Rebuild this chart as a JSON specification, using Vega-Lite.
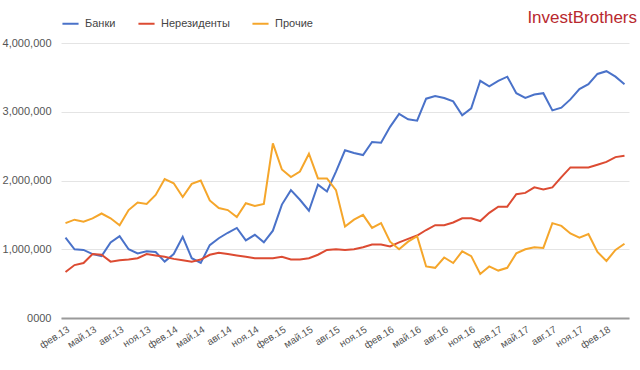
{
  "$schema": "https://vega.github.io/schema/vega-lite/v6.json",
  "width": 568,
  "height": 275,
  "autosize": "none",
  "padding": {"left": 61, "top": 43, "right": 11, "bottom": 52},
  "background": "white",
  "title": {"text": "InvestBrothers", "anchor": "end", "color": "#b8282e", "font": "Liberation Sans", "fontSize": 17, "fontWeight": "normal", "offset": 12, "dx": 8, "dy": 25},
  "config": {
    "view": {"stroke": null},
    "font": "Liberation Sans",
    "axis": {"labelFont": "Liberation Sans", "labelColor": "#555", "titleFont": "Liberation Sans"},
    "legend": {"labelFont": "Liberation Sans"}
  },
  "data": {"values": [
    {"m":"фев.13","Банки":1170000,"Нерезиденты":670000,"Прочие":1380000},
    {"m":"мар.13","Банки":1000000,"Нерезиденты":770000,"Прочие":1430000},
    {"m":"апр.13","Банки":990000,"Нерезиденты":800000,"Прочие":1400000},
    {"m":"май.13","Банки":930000,"Нерезиденты":930000,"Прочие":1450000},
    {"m":"июн.13","Банки":900000,"Нерезиденты":920000,"Прочие":1520000},
    {"m":"июл.13","Банки":1100000,"Нерезиденты":820000,"Прочие":1450000},
    {"m":"авг.13","Банки":1190000,"Нерезиденты":840000,"Прочие":1350000},
    {"m":"сен.13","Банки":1000000,"Нерезиденты":850000,"Прочие":1570000},
    {"m":"окт.13","Банки":940000,"Нерезиденты":870000,"Прочие":1680000},
    {"m":"ноя.13","Банки":970000,"Нерезиденты":930000,"Прочие":1660000},
    {"m":"дек.13","Банки":960000,"Нерезиденты":910000,"Прочие":1790000},
    {"m":"янв.14","Банки":820000,"Нерезиденты":890000,"Прочие":2020000},
    {"m":"фев.14","Банки":930000,"Нерезиденты":860000,"Прочие":1960000},
    {"m":"мар.14","Банки":1180000,"Нерезиденты":840000,"Прочие":1760000},
    {"m":"апр.14","Банки":870000,"Нерезиденты":820000,"Прочие":1950000},
    {"m":"май.14","Банки":800000,"Нерезиденты":850000,"Прочие":2000000},
    {"m":"июн.14","Банки":1060000,"Нерезиденты":920000,"Прочие":1710000},
    {"m":"июл.14","Банки":1160000,"Нерезиденты":950000,"Прочие":1600000},
    {"m":"авг.14","Банки":1240000,"Нерезиденты":930000,"Прочие":1570000},
    {"m":"сен.14","Банки":1310000,"Нерезиденты":910000,"Прочие":1470000},
    {"m":"окт.14","Банки":1130000,"Нерезиденты":890000,"Прочие":1670000},
    {"m":"ноя.14","Банки":1210000,"Нерезиденты":870000,"Прочие":1630000},
    {"m":"дек.14","Банки":1100000,"Нерезиденты":870000,"Прочие":1660000},
    {"m":"янв.15","Банки":1270000,"Нерезиденты":870000,"Прочие":2540000},
    {"m":"фев.15","Банки":1650000,"Нерезиденты":890000,"Прочие":2160000},
    {"m":"мар.15","Банки":1860000,"Нерезиденты":850000,"Прочие":2050000},
    {"m":"апр.15","Банки":1720000,"Нерезиденты":850000,"Прочие":2130000},
    {"m":"май.15","Банки":1560000,"Нерезиденты":870000,"Прочие":2390000},
    {"m":"июн.15","Банки":1940000,"Нерезиденты":920000,"Прочие":2030000},
    {"m":"июл.15","Банки":1840000,"Нерезиденты":990000,"Прочие":2030000},
    {"m":"авг.15","Банки":2130000,"Нерезиденты":1000000,"Прочие":1860000},
    {"m":"сен.15","Банки":2440000,"Нерезиденты":990000,"Прочие":1330000},
    {"m":"окт.15","Банки":2400000,"Нерезиденты":1000000,"Прочие":1430000},
    {"m":"ноя.15","Банки":2370000,"Нерезиденты":1030000,"Прочие":1500000},
    {"m":"дек.15","Банки":2560000,"Нерезиденты":1070000,"Прочие":1310000},
    {"m":"янв.16","Банки":2550000,"Нерезиденты":1070000,"Прочие":1380000},
    {"m":"фев.16","Банки":2780000,"Нерезиденты":1040000,"Прочие":1110000},
    {"m":"мар.16","Банки":2970000,"Нерезиденты":1100000,"Прочие":1000000},
    {"m":"апр.16","Банки":2890000,"Нерезиденты":1150000,"Прочие":1110000},
    {"m":"май.16","Банки":2870000,"Нерезиденты":1200000,"Прочие":1190000},
    {"m":"июн.16","Банки":3190000,"Нерезиденты":1280000,"Прочие":750000},
    {"m":"июл.16","Банки":3230000,"Нерезиденты":1350000,"Прочие":730000},
    {"m":"авг.16","Банки":3200000,"Нерезиденты":1350000,"Прочие":880000},
    {"m":"сен.16","Банки":3150000,"Нерезиденты":1390000,"Прочие":800000},
    {"m":"окт.16","Банки":2950000,"Нерезиденты":1450000,"Прочие":970000},
    {"m":"ноя.16","Банки":3050000,"Нерезиденты":1450000,"Прочие":900000},
    {"m":"дек.16","Банки":3450000,"Нерезиденты":1410000,"Прочие":640000},
    {"m":"янв.17","Банки":3370000,"Нерезиденты":1530000,"Прочие":750000},
    {"m":"фев.17","Банки":3450000,"Нерезиденты":1620000,"Прочие":690000},
    {"m":"мар.17","Банки":3510000,"Нерезиденты":1620000,"Прочие":730000},
    {"m":"апр.17","Банки":3270000,"Нерезиденты":1800000,"Прочие":940000},
    {"m":"май.17","Банки":3200000,"Нерезиденты":1820000,"Прочие":1000000},
    {"m":"июн.17","Банки":3250000,"Нерезиденты":1900000,"Прочие":1030000},
    {"m":"июл.17","Банки":3270000,"Нерезиденты":1870000,"Прочие":1020000},
    {"m":"авг.17","Банки":3020000,"Нерезиденты":1900000,"Прочие":1380000},
    {"m":"сен.17","Банки":3060000,"Нерезиденты":2050000,"Прочие":1340000},
    {"m":"окт.17","Банки":3180000,"Нерезиденты":2190000,"Прочие":1230000},
    {"m":"ноя.17","Банки":3330000,"Нерезиденты":2190000,"Прочие":1170000},
    {"m":"дек.17","Банки":3400000,"Нерезиденты":2190000,"Прочие":1220000},
    {"m":"янв.18","Банки":3550000,"Нерезиденты":2230000,"Прочие":960000},
    {"m":"фев.18","Банки":3590000,"Нерезиденты":2270000,"Прочие":830000},
    {"m":"мар.18","Банки":3510000,"Нерезиденты":2340000,"Прочие":990000},
    {"m":"апр.18","Банки":3400000,"Нерезиденты":2360000,"Прочие":1080000}
  ]},
  "transform": [{"fold": ["Банки", "Нерезиденты", "Прочие"], "as": ["s", "v"]}],
  "mark": {"type": "line", "strokeWidth": 2, "interpolate": "linear"},
  "encoding": {
    "x": {
      "field": "m", "type": "ordinal", "sort": null,
      "scale": {"type": "point", "padding": 0.5},
      "axis": {
        "title": null,
        "values": ["фев.13","май.13","авг.13","ноя.13","фев.14","май.14","авг.14","ноя.14","фев.15","май.15","авг.15","ноя.15","фев.16","май.16","авг.16","ноя.16","фев.17","май.17","авг.17","ноя.17","фев.18"],
        "labelAngle": -32, "labelAlign": "right", "labelBaseline": "top",
        "labelFontSize": 10, "labelPadding": 6, "ticks": false, "grid": false,
        "domainColor": "#9a9a9a", "domainWidth": 2, "labelOverlap": false
      }
    },
    "y": {
      "field": "v", "type": "quantitative",
      "scale": {"domain": [0, 4000000], "nice": false},
      "axis": {
        "title": null, "values": [0, 1000000, 2000000, 3000000, 4000000],
        "labelExpr": "datum.value == 0 ? '0000' : format(datum.value, ',')",
        "labelFontSize": 11, "labelPadding": 10, "ticks": false, "domain": false,
        "gridColor": "#e4e4e4", "gridWidth": 1
      }
    },
    "color": {
      "field": "s", "type": "nominal", "sort": ["Банки", "Нерезиденты", "Прочие"],
      "scale": {"domain": ["Банки", "Нерезиденты", "Прочие"], "range": ["#4a72c9", "#dc4b32", "#f5a62b"]},
      "legend": {
        "title": null, "orient": "none", "legendX": 0, "legendY": -29, "direction": "horizontal",
        "symbolType": "stroke", "symbolStrokeWidth": 2, "symbolSize": 260,
        "labelFontSize": 11, "labelColor": "#444", "columnPadding": 18, "labelOffset": 5
      }
    }
  }
}
